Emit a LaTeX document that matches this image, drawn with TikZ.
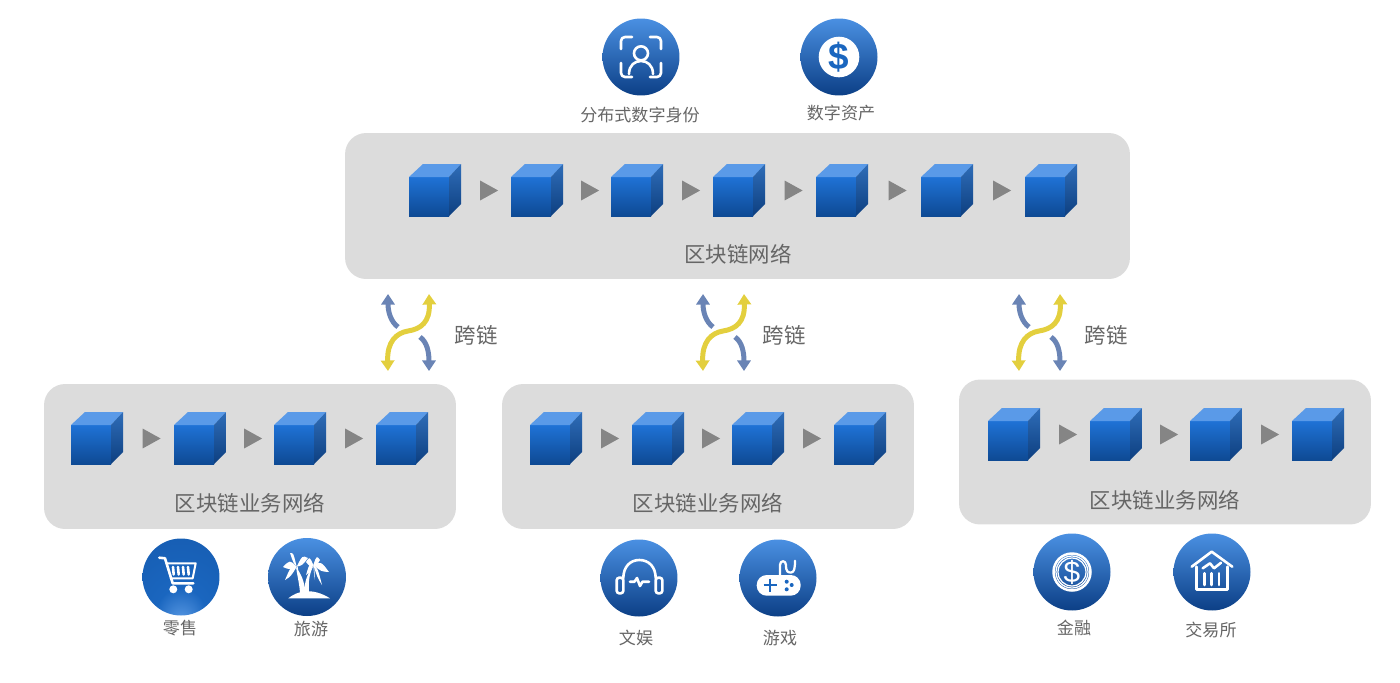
\documentclass[tikz,border=0pt]{standalone}
\usepackage{fontspec}
\setmainfont{Noto Sans CJK SC}
\newfontfamily\dollarfont{Liberation Sans}
\usetikzlibrary{positioning,arrows.meta,calc,shapes.geometric}
\definecolor{ballTop}{HTML}{4A90E2}
\definecolor{ballMid}{HTML}{1A66BF}
\definecolor{ballLow}{HTML}{0C3F86}
\definecolor{panelGray}{HTML}{DCDCDC}
\definecolor{labelGray}{HTML}{666666}
\definecolor{tipGray}{HTML}{858585}
\definecolor{crossYellow}{HTML}{E3CF3E}
\definecolor{crossBlue}{HTML}{6A84B5}
\definecolor{cubeA}{HTML}{1F72D6}
\definecolor{cubeB}{HTML}{0E4A94}
\definecolor{cubeC}{HTML}{5A9AE8}
\definecolor{cubeD}{HTML}{2F6DB8}
\definecolor{cubeE}{HTML}{0D3F80}
\pgfdeclareradialshading{cartball}{\pgfpoint{0bp}{-30bp}}{color(0bp)=(ballTop!90!white);color(16bp)=(ballMid);color(40bp)=(ballMid!80!ballLow);color(70bp)=(ballLow!70!ballMid)}
\newcommand{\bcube}[3]{%
  \node[cubebox] (#1) at (#2+26,#3+26.5) {};
  \shade[cubefront] (#2,#3+13) rectangle (#2+40,#3+52);
  \fill[cubetop] (#2,#3+13) -- (#2+14,#3) -- (#2+52,#3) -- (#2+40,#3+13) -- cycle;
  \shade[cubeside] (#2+40,#3+13) -- (#2+52,#3) -- (#2+52,#3+40) -- (#2+40,#3+52) -- cycle;
}
\begin{document}
\begin{tikzpicture}[
    x=0.02cm, y=-0.02cm,
    panel/.style={fill=panelGray, rounded corners=0.42cm, minimum height=2.92cm, inner sep=0pt},
    cubebox/.style={minimum width=1.04cm, minimum height=1.06cm, inner sep=0pt},
    cubefront/.style={top color=cubeA, bottom color=cubeB},
    cubetop/.style={fill=cubeC},
    cubeside/.style={top color=cubeD, bottom color=cubeE},
    chaintip/.style={isosceles triangle, isosceles triangle apex angle=58, fill=tipGray, inner sep=0pt, minimum height=0.36cm},
    netlabel/.style={text=labelGray, font=\fontsize{12.2pt}{14pt}\selectfont},
    applabel/.style={text=labelGray, font=\fontsize{9.7pt}{12pt}\selectfont},
    iconball/.style={circle, minimum size=1.54cm, inner sep=0pt, top color=ballTop, middle color=ballMid, bottom color=ballLow},
    iconline/.style={draw=white, line width=0.052cm, line cap=round, line join=round},
    crossy/.style={draw=crossYellow, line width=0.1cm, {Triangle[length=6pt,width=7.5pt]}-{Triangle[length=6pt,width=7.5pt]}},
    crossb/.style={draw=crossBlue, line width=0.1cm, -{Triangle[length=6pt,width=7.5pt]}},
]
\useasboundingbox (0,0) rectangle (1400,683);

% === Panels ===
\node[panel, minimum width=15.7cm] (topnet) at (737.5,206) {};
\node[panel, minimum width=8.24cm, minimum height=2.9cm] (leftnet) at (250,456.5) {};
\node[panel, minimum width=8.24cm, minimum height=2.9cm] (midnet) at (708,456.5) {};
\node[panel, minimum width=8.24cm, minimum height=2.9cm] (rightnet) at (1165,452) {};

\node[netlabel] (toplabel) at (738,254) {区块链网络};
\node[netlabel] (leftlabel) at (250,503) {区块链业务网络};
\node[netlabel] (midlabel) at (708,503) {区块链业务网络};
\node[netlabel] (rightlabel) at (1165,500) {区块链业务网络};

% === Chains ===
\foreach \nm/\cx in {t1/409,t2/511,t3/611,t4/713,t5/816,t6/921,t7/1025}{\bcube{\nm}{\cx}{164}}
\foreach \nm/\cx in {a1/71,a2/174,a3/274,a4/376,b1/530,b2/632,b3/732,b4/834}{\bcube{\nm}{\cx}{412}}
\foreach \nm/\cx in {c1/988,c2/1090,c3/1190,c4/1292}{\bcube{\nm}{\cx}{408}}

\foreach \a/\b in {t1/t2,t2/t3,t3/t4,t4/t5,t5/t6,t6/t7,a1/a2,a2/a3,a3/a4,b1/b2,b2/b3,b3/b4,c1/c2,c2/c3,c3/c4}
  \path (\a) -- node[chaintip] {} (\b);

% === Cross-chain arrows ===
\foreach \nm/\sx in {l/0,m/315,r/631}{
  \begin{scope}[shift={(\sx,0)}]
    \coordinate (y0\nm) at (388,371);
    \coordinate (y1\nm) at (429,294);
    \coordinate (b0\nm) at (398,327);
    \coordinate (b1\nm) at (388,294);
    \coordinate (b2\nm) at (420,337);
    \coordinate (b3\nm) at (429,371);
    \draw[crossy] (y0\nm) .. controls (387,342) and (396,333) .. (408,331) .. controls (421,329) and (430,322) .. (y1\nm);
    \draw[crossb] (b0\nm) .. controls (391,322) and (388,312) .. (b1\nm);
    \draw[crossb] (b2\nm) .. controls (427,342) and (429,352) .. (b3\nm);
  \end{scope}
}
\node[netlabel] (xl) at (476,335) {跨链};
\node[netlabel] (xm) at (784,335) {跨链};
\node[netlabel] (xr) at (1106,335) {跨链};

% === Top icons ===
\node[iconball] (idcard) at (641,57) {};
\node[iconball] (asset) at (839,57) {};
\node[applabel] (idlabel) at (640,115) {分布式数字身份};
\node[applabel] (assetlabel) at (841,113) {数字资产};

\begin{scope}[shift={(idcard.center)}]
  \draw[iconline, rounded corners=0.08cm] (-20,-8) -- (-20,-20) -- (-9,-20);
  \draw[iconline, rounded corners=0.08cm] (9,-20) -- (20,-20) -- (20,-8);
  \draw[iconline, rounded corners=0.08cm] (-20,6) -- (-20,20) -- (-9,20);
  \draw[iconline, rounded corners=0.08cm] (9,20) -- (20,20) -- (20,6);
  \draw[iconline] (0,-3.7) circle (7);
  \draw[iconline] (-12,17) .. controls (-12,8) and (-6,4) .. (0,4) .. controls (6,4) and (12,8) .. (12,17);
\end{scope}
\fill[white] (asset.center) circle (20.3);
\node[text=ballMid, font=\dollarfont\bfseries\fontsize{21pt}{22pt}\selectfont] (assetsign) at (asset.center) {\$};

% === Left icons ===
\node[circle, minimum size=1.54cm, inner sep=0pt, shading=cartball] (cart) at (181,577) {};
\node[iconball, minimum size=1.56cm] (palm) at (307,577) {};
\node[applabel] (cartlabel) at (180,628) {零售};
\node[applabel] (palmlabel) at (311,629) {旅游};

\begin{scope}[shift={(cart.center)}]
  \draw[iconline] (-21.7,-19.3) -- (-16,-18.7) -- (-8.3,6.3) -- (12.3,6.3);
  \draw[iconline, line width=0.04cm] (-14.3,-13.7) -- (14.7,-13.7) -- (11.7,1.3) -- (-10.3,1.3);
  \foreach \sx in {-8,-3,2,7}
    \draw[iconline] (\sx,-10) -- (\sx+0.7,-2.5);
  \fill[white] (-7.7,12.3) circle (4) (7.7,12.3) circle (4);
\end{scope}
\begin{scope}[shift={(palm.center)}]
  \fill[white] (-18.7,21.3) .. controls (-10,14) and (5,10) .. (23,21.3) -- cycle;
  \fill[white] (-1.5,15) .. controls (-3,3) and (-6,-3) .. (-11,-10) .. controls (-10,-3) and (-8,5) .. (-7,15) -- cycle;
  \fill[white] (2,15) .. controls (1,3) and (3,-5) .. (7,-12) .. controls (1,-5) and (-3,5) .. (-2.5,15) -- cycle;
  \foreach \tx/\ty in {-17/-24,1/-19,-24/-10,-22/3,-8/2}
    \fill[white] (-10.3,-10.3) .. controls ($(-10.3,-10.3)!.5!(\tx,\ty)+(0,-7)$) .. (\tx,\ty) .. controls ($(-10.3,-10.3)!.5!(\tx,\ty)+(0,3)$) .. (-10.3,-10.3);
  \foreach \tx/\ty in {-1/-15,13/-17,22/-5,15/8,-1/-2,8/3}
    \fill[white] (6.3,-12) .. controls ($(6.3,-12)!.5!(\tx,\ty)+(0,-7)$) .. (\tx,\ty) .. controls ($(6.3,-12)!.5!(\tx,\ty)+(0,3)$) .. (6.3,-12);
\end{scope}

% === Middle icons ===
\node[iconball] (phones) at (639,578) {};
\node[iconball] (gamepad) at (778,578) {};
\node[applabel] (phoneslabel) at (636,638) {文娱};
\node[applabel] (gamelabel) at (780,638) {游戏};

\begin{scope}[shift={(phones.center)}]
  \draw[iconline] (-15.7,0.3) .. controls (-15.7,-11) and (-9,-18) .. (0.3,-18) .. controls (10,-18) and (16.7,-11) .. (16.7,0.3);
  \draw[iconline, rounded corners=0.05cm] (-22.3,-0.3) rectangle (-15.7,15.3);
  \draw[iconline, rounded corners=0.05cm] (16.7,-0.3) rectangle (23.3,15.3);
  \draw[iconline] (-9,3.7) -- (-4.5,3.7) -- (-2,0) -- (1,8) -- (3.5,3.7) -- (10,3.7);
\end{scope}
\begin{scope}[shift={(gamepad.center)}]
  \fill[white, rounded corners=0.2cm] (-21.3,-3) rectangle (22.7,17.7);
  \draw[iconline, line width=0.045cm] (2,-3) -- (2,-13) .. controls (2,-18) and (8,-18) .. (8,-13) .. controls (8,-6) and (10,-5.5) .. (13,-5.5) .. controls (16,-5.5) and (17,-9) .. (17,-17.3);
  \draw[ballMid, line width=0.055cm] (-14.5,7) -- (-1.5,7) (-8,0.5) -- (-8,13.5);
  \fill[ballMid] (8.7,3.7) circle (2) (13.7,7) circle (2) (8.7,11.3) circle (2);
\end{scope}

% === Right icons ===
\node[iconball] (coin) at (1072,572) {};
\node[iconball] (house) at (1212,572) {};
\node[applabel] (coinlabel) at (1074,628) {金融};
\node[applabel] (houselabel) at (1211,630) {交易所};

\begin{scope}[shift={(coin.center)}]
  \draw[white, line width=0.05cm] (0,0) circle (18.5);
  \draw[white, line width=0.025cm] (0,0) circle (16);
  \draw[white, line width=0.025cm] (0,0) circle (14);
\end{scope}
\node[text=white, font=\dollarfont\fontsize{17pt}{18pt}\selectfont] (coinsign) at (coin.center) {\$};
\begin{scope}[shift={(house.center)}]
  \draw[iconline] (-20.3,-5.3) -- (-0.3,-20.3) -- (20.3,-5.3);
  \draw[iconline] (-15.3,-5.3) -- (-15.3,17.3) -- (15.3,17.3) -- (15.3,-5.3);
  \draw[iconline] (-9.3,-3.7) -- (-2,-8.7) -- (2,-3.7) -- (9,-9.3);
  \foreach \sx in {-7.7,-0.3,7}
    \draw[iconline] (\sx,1.3) -- (\sx,13);
\end{scope}
\end{tikzpicture}
\end{document}
